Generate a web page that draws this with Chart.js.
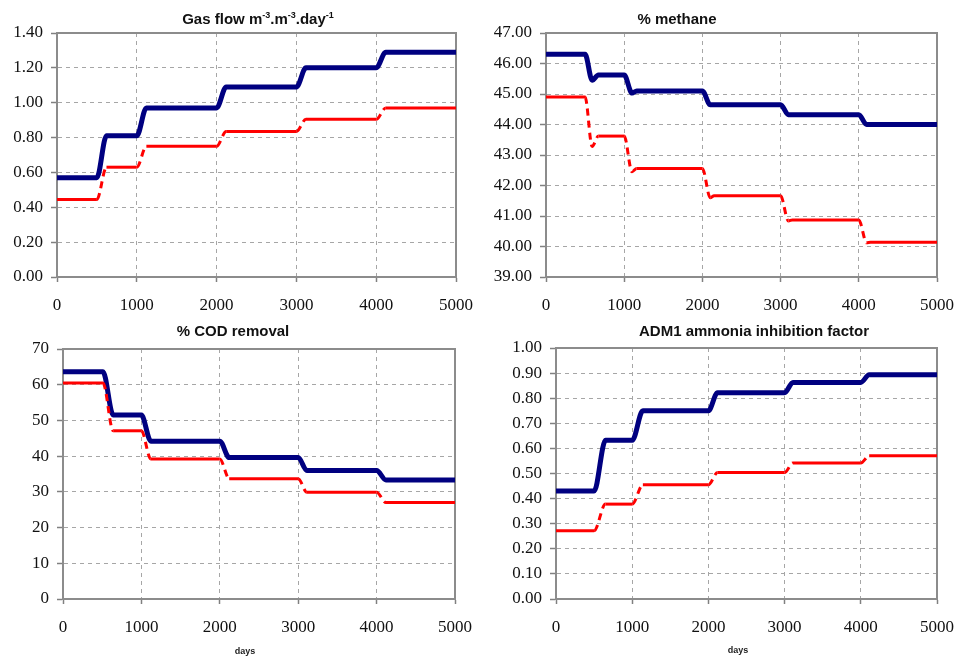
<!DOCTYPE html>
<html>
<head>
<meta charset="utf-8">
<script src="https://cdn.jsdelivr.net/npm/chart.js@4.4.1/dist/chart.umd.min.js"></script>
<style>
  html, body { margin: 0; padding: 0; background: #fff; }
  #page { position: relative; width: 958px; height: 658px; overflow: hidden; }
  canvas { position: absolute; }
  .title {
    position: absolute;
    font: bold 15px "Liberation Sans", Arial, sans-serif;
    color: #111;
    transform: translate(-50%, -50%);
    white-space: nowrap;
  }
  .title sup { font-size: 9px; vertical-align: 6px; line-height: 0; }
  .days {
    position: absolute;
    font: bold 9px "Liberation Sans", Arial, sans-serif;
    color: #222;
    transform: translate(-50%, -50%);
  }
</style>
</head>
<body>
<div id="page">
  <canvas id="gas" width="479" height="300" style="left:0;top:20px"></canvas>
  <canvas id="ch4" width="479" height="300" style="left:479px;top:20px"></canvas>
  <canvas id="cod" width="479" height="322" style="left:0;top:336px"></canvas>
  <canvas id="nh3" width="479" height="322" style="left:479px;top:336px"></canvas>

  <div class="title" style="left:258px;top:18px">Gas flow m<sup>-3</sup>.m<sup>-3</sup>.day<sup>-1</sup></div>
  <div class="title" style="left:677px;top:18px">% methane</div>
  <div class="title" style="left:233px;top:330px">% COD removal</div>
  <div class="title" style="left:754px;top:330px">ADM1 ammonia inhibition factor</div>
  <div class="days" style="left:245px;top:651px">days</div>
  <div class="days" style="left:738px;top:650px">days</div>
</div>

<script>
// Gas flow (m-3.m-3.day-1)
const gasDays = [0, 500, 620, 1000, 1120, 2000, 2120, 3000, 3120, 4000, 4120, 5000];
const gasBlue = [0.57, 0.57, 0.81, 0.81, 0.97, 0.97, 1.09, 1.09, 1.20, 1.20, 1.29, 1.29];
const gasRed  = [0.445, 0.445, 0.63, 0.63, 0.75, 0.75, 0.835, 0.835, 0.905, 0.905, 0.97, 0.97];

// % methane
const ch4Days = [0, 500, 590, 670, 1000, 1100, 1160, 2000, 2100, 2150, 3000, 3100, 3150, 4000, 4100, 4150, 5000];
const ch4Blue = [46.3, 46.3, 45.45, 45.62, 45.62, 45.03, 45.1, 45.1, 44.65, 44.65, 44.65, 44.32, 44.32, 44.32, 44.0, 44.0, 44.0];
const ch4Red  = [44.9, 44.9, 43.28, 43.62, 43.62, 42.45, 42.56, 42.56, 41.6, 41.66, 41.66, 40.84, 40.87, 40.87, 40.12, 40.14, 40.14];

// % COD removal
const codDays = [0, 510, 640, 1000, 1120, 2000, 2120, 3000, 3110, 4000, 4120, 5000];
const codBlue = [63.6, 63.6, 51.5, 51.5, 44.2, 44.2, 39.6, 39.6, 36.0, 36.0, 33.3, 33.3];
const codRed  = [60.5, 60.5, 47.1, 47.1, 39.2, 39.2, 33.7, 33.7, 29.9, 29.9, 27.0, 27.0];

// ADM1 ammonia inhibition factor
const nh3Days = [0, 500, 650, 1000, 1140, 2000, 2120, 3000, 3110, 4000, 4110, 5000];
const nh3Blue = [0.43, 0.43, 0.632, 0.632, 0.75, 0.75, 0.822, 0.822, 0.863, 0.863, 0.893, 0.893];
const nh3Red  = [0.272, 0.272, 0.378, 0.378, 0.455, 0.455, 0.504, 0.504, 0.542, 0.542, 0.571, 0.571];

// x axis ticks
const dayTicks = [0, 1000, 2000, 3000, 4000, 5000];

const AXIS_GREY = '#808080';
const tickFont = { family: '"Liberation Serif", "Times New Roman", serif', size: 17 };

// solid frame around the plot area (Excel style)
const plotBorder = {
  id: 'plotBorder',
  beforeDatasetsDraw(chart) {
    const { ctx, chartArea: a } = chart;
    ctx.save();
    ctx.strokeStyle = '#8c8c8c';
    ctx.lineWidth = 2;
    ctx.strokeRect(a.left, a.top, a.right - a.left, a.bottom - a.top);
    ctx.restore();
  }
};

function toPoints(days, vals) {
  return days.map((d, i) => ({ x: d, y: vals[i] }));
}

// no extra room for overflowing labels, the layout padding decides
function noOverflow(s) {
  s.paddingLeft = 0;
  s.paddingRight = 0;
  s.paddingTop = 0;
  s.paddingBottom = 0;
}

function drawPanel(id, days, blue, red, o) {
  new Chart(document.getElementById(id), {
    type: 'line',
    data: {
      datasets: [
        {
          // red drawn on top, dashed where it steps
          data: toPoints(days, red),
          borderColor: '#ff0000',
          borderWidth: 3,
          pointRadius: 0,
          cubicInterpolationMode: 'monotone',
          segment: {
            borderDash: c => Math.abs(c.p1.y - c.p0.y) > 3 ? [7, 5] : undefined
          }
        },
        {
          data: toPoints(days, blue),
          borderColor: '#000080',
          borderWidth: 5,
          pointRadius: 0,
          cubicInterpolationMode: 'monotone'
        }
      ]
    },
    options: {
      responsive: false,
      animation: false,
      layout: { padding: { top: o.padTop, right: o.padRight, left: 0, bottom: 0 } },
      plugins: { legend: { display: false }, tooltip: { enabled: false } },
      scales: {
        x: {
          type: 'linear',
          min: 0,
          max: 5000,
          afterBuildTicks: s => { s.ticks = dayTicks.map(v => ({ value: v })); },
          afterFit: s => { s.height = o.xh; noOverflow(s); },
          ticks: { font: tickFont, color: '#111', padding: 13, maxRotation: 0, autoSkip: false, callback: v => String(v) },
          grid: { color: '#a6a6a6', lineWidth: 1, tickLength: 5, tickColor: AXIS_GREY, tickWidth: 1.5 },
          border: { color: AXIS_GREY, width: 2, dash: [4, 4] }
        },
        y: {
          min: o.min,
          max: o.max,
          afterFit: s => { s.width = o.yw; noOverflow(s); },
          ticks: {
            stepSize: o.step,
            font: tickFont,
            color: '#111',
            padding: 8,
            callback: v => v.toFixed(o.dec)
          },
          grid: { color: '#a6a6a6', lineWidth: 1, tickLength: 6, tickColor: AXIS_GREY, tickWidth: 1.5 },
          border: { color: AXIS_GREY, width: 2, dash: [4, 4] }
        }
      }
    },
    plugins: [plotBorder]
  });
}

drawPanel('gas', gasDays, gasBlue, gasRed, { min: 0, max: 1.4, step: 0.2, dec: 2, yw: 57, xh: 43, padTop: 13, padRight: 23 });
drawPanel('ch4', ch4Days, ch4Blue, ch4Red, { min: 39, max: 47, step: 1, dec: 2, yw: 67, xh: 43, padTop: 13, padRight: 21 });
drawPanel('cod', codDays, codBlue, codRed, { min: 0, max: 70, step: 10, dec: 0, yw: 63, xh: 59, padTop: 13, padRight: 24 });
drawPanel('nh3', nh3Days, nh3Blue, nh3Red, { min: 0, max: 1, step: 0.1, dec: 2, yw: 77, xh: 59, padTop: 12, padRight: 21 });
</script>
</body>
</html>
